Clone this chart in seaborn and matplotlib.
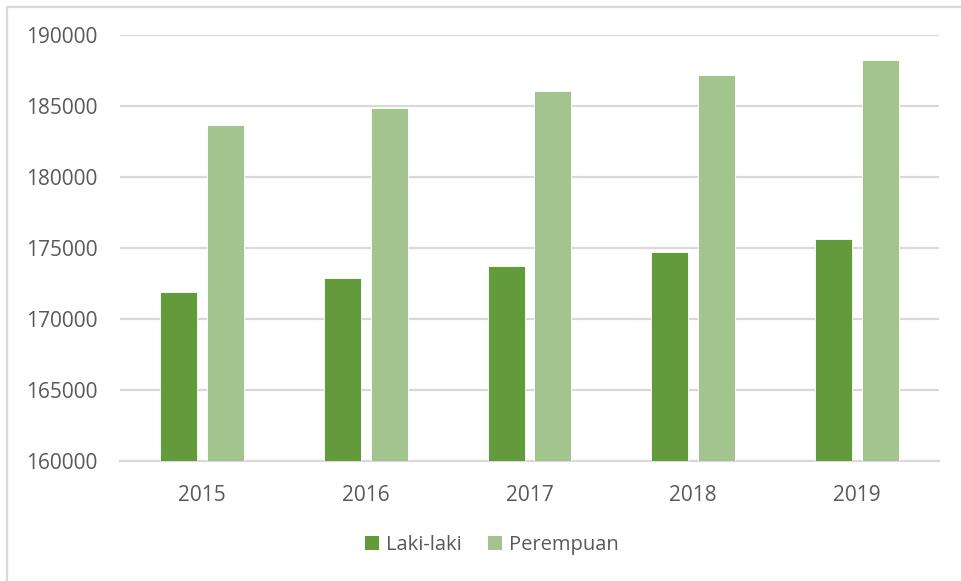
import matplotlib
matplotlib.use("Agg")
import matplotlib.pyplot as plt
import seaborn as sns
import pandas as pd
from matplotlib.patches import Patch
from matplotlib.lines import Line2D

years = ["2015", "2016", "2017", "2018", "2019"]
laki_laki = [171880, 172870, 173730, 174720, 175630]
perempuan = [183690, 184890, 186060, 187160, 188220]
series_names = ["Laki-laki", "Perempuan"]
colors = ["#629A3C", "#A3C48F"]
yticks = [160000, 165000, 170000, 175000, 180000, 185000, 190000]

df = pd.DataFrame({
    "Tahun": years * 2,
    "Jumlah": laki_laki + perempuan,
    "Jenis Kelamin": [series_names[0]] * len(years) + [series_names[1]] * len(years),
})

sns.set_theme(style="white")
plt.rcParams["font.family"] = ["Open Sans", "DejaVu Sans"]

fig = plt.figure(figsize=(9.62, 5.81), dpi=100)
ax = fig.add_axes([120 / 962, 1 - 461 / 581, (939 - 120) / 962, (461 - 35) / 581])

sns.barplot(data=df, x="Tahun", y="Jumlah", hue="Jenis Kelamin",
            palette=colors, saturation=1, width=0.571, gap=0.208, ax=ax,
            edgecolor="white", linewidth=0.6, legend=False, zorder=3)

ax.set_ylim(160000, 190000)
ax.set_xlim(-0.5, 4.5)
ax.set_yticks(yticks)
ax.set_yticklabels([str(v) for v in yticks])
ax.yaxis.grid(True, color="#D9D9D9", linewidth=1.6, zorder=0)
ax.xaxis.grid(False)
for s in ["top", "right", "left"]:
    ax.spines[s].set_visible(False)
ax.spines["bottom"].set_color("#D9D9D9")
ax.spines["bottom"].set_linewidth(1.6)
ax.tick_params(axis="y", length=0, pad=16, labelsize=15, labelcolor="#595959")
ax.tick_params(axis="x", length=0, pad=17, labelsize=15, labelcolor="#595959")
ax.set_xlabel("")
ax.set_ylabel("")

handles = [Patch(facecolor=c, edgecolor="none", label=n) for c, n in zip(colors, series_names)]
fig.legend(handles=handles, loc="center", bbox_to_anchor=(492 / 962, 1 - 545 / 581),
           ncol=2, frameon=False, fontsize=14.5, handlelength=0.7, handleheight=0.7,
           handletextpad=0.35, columnspacing=1.3, labelcolor="#595959")

# outer chart frame (left and top edges visible)
fig.add_artist(Line2D([7 / 962, 7 / 962], [0, 1 - 7 / 581], transform=fig.transFigure,
                      color="#D9D9D9", linewidth=1.6))
fig.add_artist(Line2D([7 / 962, 1], [1 - 7 / 581, 1 - 7 / 581], transform=fig.transFigure,
                      color="#D9D9D9", linewidth=1.6))

fig.savefig("out.png", dpi=100)
